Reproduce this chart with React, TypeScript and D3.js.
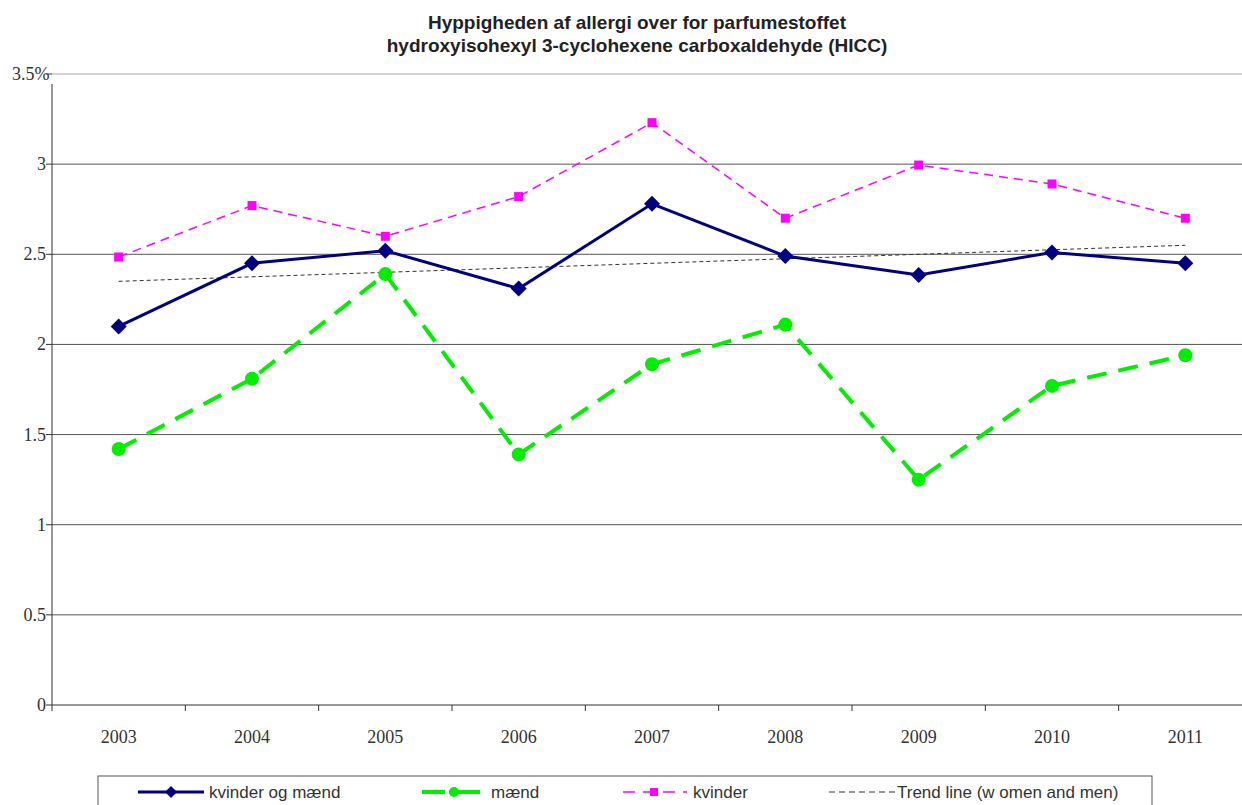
import React from "react";
import * as d3 from "d3";

const width = 1242;
const height = 805;

const years = ["2003", "2004", "2005", "2006", "2007", "2008", "2009", "2010", "2011"];
const both = [2.1, 2.45, 2.52, 2.31, 2.78, 2.49, 2.385, 2.51, 2.45];
const men = [1.42, 1.81, 2.39, 1.39, 1.89, 2.11, 1.25, 1.77, 1.94];
const women = [2.485, 2.77, 2.6, 2.82, 3.23, 2.7, 2.995, 2.89, 2.7];
const trendEnds = [2.35, 2.55];
const yTicks = [0, 0.5, 1, 1.5, 2, 2.5, 3, 3.5];

const margin = { left: 52, top: 74, right: 1252, bottom: 705 };

export default function App() {
  const x = d3.scaleBand().domain(years).range([margin.left, margin.right]);
  const y = d3.scaleLinear().domain([0, 3.5]).range([margin.bottom, margin.top]);
  const cx = (yr: string) => x(yr)! + x.bandwidth() / 2;

  const line = d3
    .line<number>()
    .x((_, i) => cx(years[i]))
    .y(d => y(d));

  const trendPath = d3
    .line<number>()
    .x((_, i) => cx(i === 0 ? years[0] : years[years.length - 1]))
    .y(d => y(d))(trendEnds);

  const serif = "'Liberation Serif', 'Times New Roman', serif";
  const sans = "'Liberation Sans', Arial, sans-serif";

  const boundaries = years.map(yr => x(yr)!).concat([margin.right]);

  return (
    <svg width={width} height={height} style={{ position: "absolute", left: 0, top: 0 }}>
      <rect width={width} height={height} fill="#fff" />
      <text x={637} y={29} textAnchor="middle" fontFamily={sans} fontWeight="bold" fontSize={19} fill="#222">
        Hyppigheden af allergi over for parfumestoffet
      </text>
      <text x={637} y={52} textAnchor="middle" fontFamily={sans} fontWeight="bold" fontSize={19} fill="#222">
        hydroxyisohexyl 3-cyclohexene carboxaldehyde (HICC)
      </text>

      {/* gridlines */}
      {yTicks.slice(1).map(t => (
        <line
          key={t}
          x1={margin.left}
          x2={width}
          y1={y(t)}
          y2={y(t)}
          stroke={t === 3.5 ? "#aaa" : "#555"}
          strokeWidth={1}
        />
      ))}

      {/* axes */}
      <line x1={margin.left} x2={margin.left} y1={margin.top + 10} y2={margin.bottom} stroke="#333" />
      <line x1={margin.left} x2={width} y1={margin.bottom} y2={margin.bottom} stroke="#333" />
      {yTicks.map(t => (
        <g key={t}>
          <line x1={margin.left - 6} x2={margin.left} y1={y(t)} y2={y(t)} stroke="#333" />
          <text
            x={t === 3.5 ? 12 : 46}
            y={y(t) + 6}
            textAnchor={t === 3.5 ? "start" : "end"}
            fontFamily={serif}
            fontSize={18}
            fill="#333"
          >
            {t === 3.5 ? "3.5%" : t}
          </text>
        </g>
      ))}
      {boundaries.map((b, i) => (
        <line key={i} x1={b} x2={b} y1={margin.bottom} y2={margin.bottom + 6} stroke="#333" />
      ))}
      {years.map(yr => (
        <text key={yr} x={cx(yr)} y={743} textAnchor="middle" fontFamily={serif} fontSize={18} fill="#333">
          {yr}
        </text>
      ))}

      {/* trend */}
      <path d={trendPath!} fill="none" stroke="#333" strokeWidth={1} strokeDasharray="4,3" />

      {/* women */}
      <path d={line(women)!} fill="none" stroke="#ff00ff" strokeWidth={1.5} strokeDasharray="9,6" />
      {women.map((v, i) => (
        <rect key={i} x={cx(years[i]) - 4.5} y={y(v) - 4.5} width={9} height={9} fill="#ff00ff" />
      ))}

      {/* men */}
      <path d={line(men)!} fill="none" stroke="#00ee00" strokeWidth={4} strokeDasharray="20,12" />
      {men.map((v, i) => (
        <circle key={i} cx={cx(years[i])} cy={y(v)} r={7} fill="#00ee00" />
      ))}

      {/* both */}
      <path d={line(both)!} fill="none" stroke="#000080" strokeWidth={3} />
      {both.map((v, i) => (
        <path
          key={i}
          d={`M${cx(years[i])},${y(v) - 8}l8,8l-8,8l-8,-8z`}
          fill="#000080"
        />
      ))}

      {/* legend */}
      <rect x={98} y={776} width={1054} height={40} fill="#fff" stroke="#555" />
      <g fontFamily={sans} fontSize={17} fill="#333">
        <line x1={138} x2={204} y1={792} y2={792} stroke="#000080" strokeWidth={3} />
        <path d={`M171,786l6,6l-6,6l-6,-6z`} fill="#000080" />
        <text x={209} y={798}>kvinder og mænd</text>

        <line x1={422} x2={480} y1={792} y2={792} stroke="#00ee00" strokeWidth={4} />
        <line x1={445} x2={449} y1={792} y2={792} stroke="#fff" strokeWidth={4} />
        <circle cx={454} cy={792} r={5} fill="#00ee00" />
        <text x={491} y={798}>mænd</text>

        <line x1={623} x2={687} y1={792} y2={792} stroke="#ff00ff" strokeWidth={1.5} strokeDasharray="12,8" />
        <rect x={650} y={788} width={8} height={8} fill="#ff00ff" />
        <text x={693} y={798}>kvinder</text>

        <line x1={829} x2={895} y1={792} y2={792} stroke="#333" strokeWidth={1} strokeDasharray="6,4" />
        <text x={897} y={798}>Trend line (w omen and men)</text>
      </g>
    </svg>
  );
}
